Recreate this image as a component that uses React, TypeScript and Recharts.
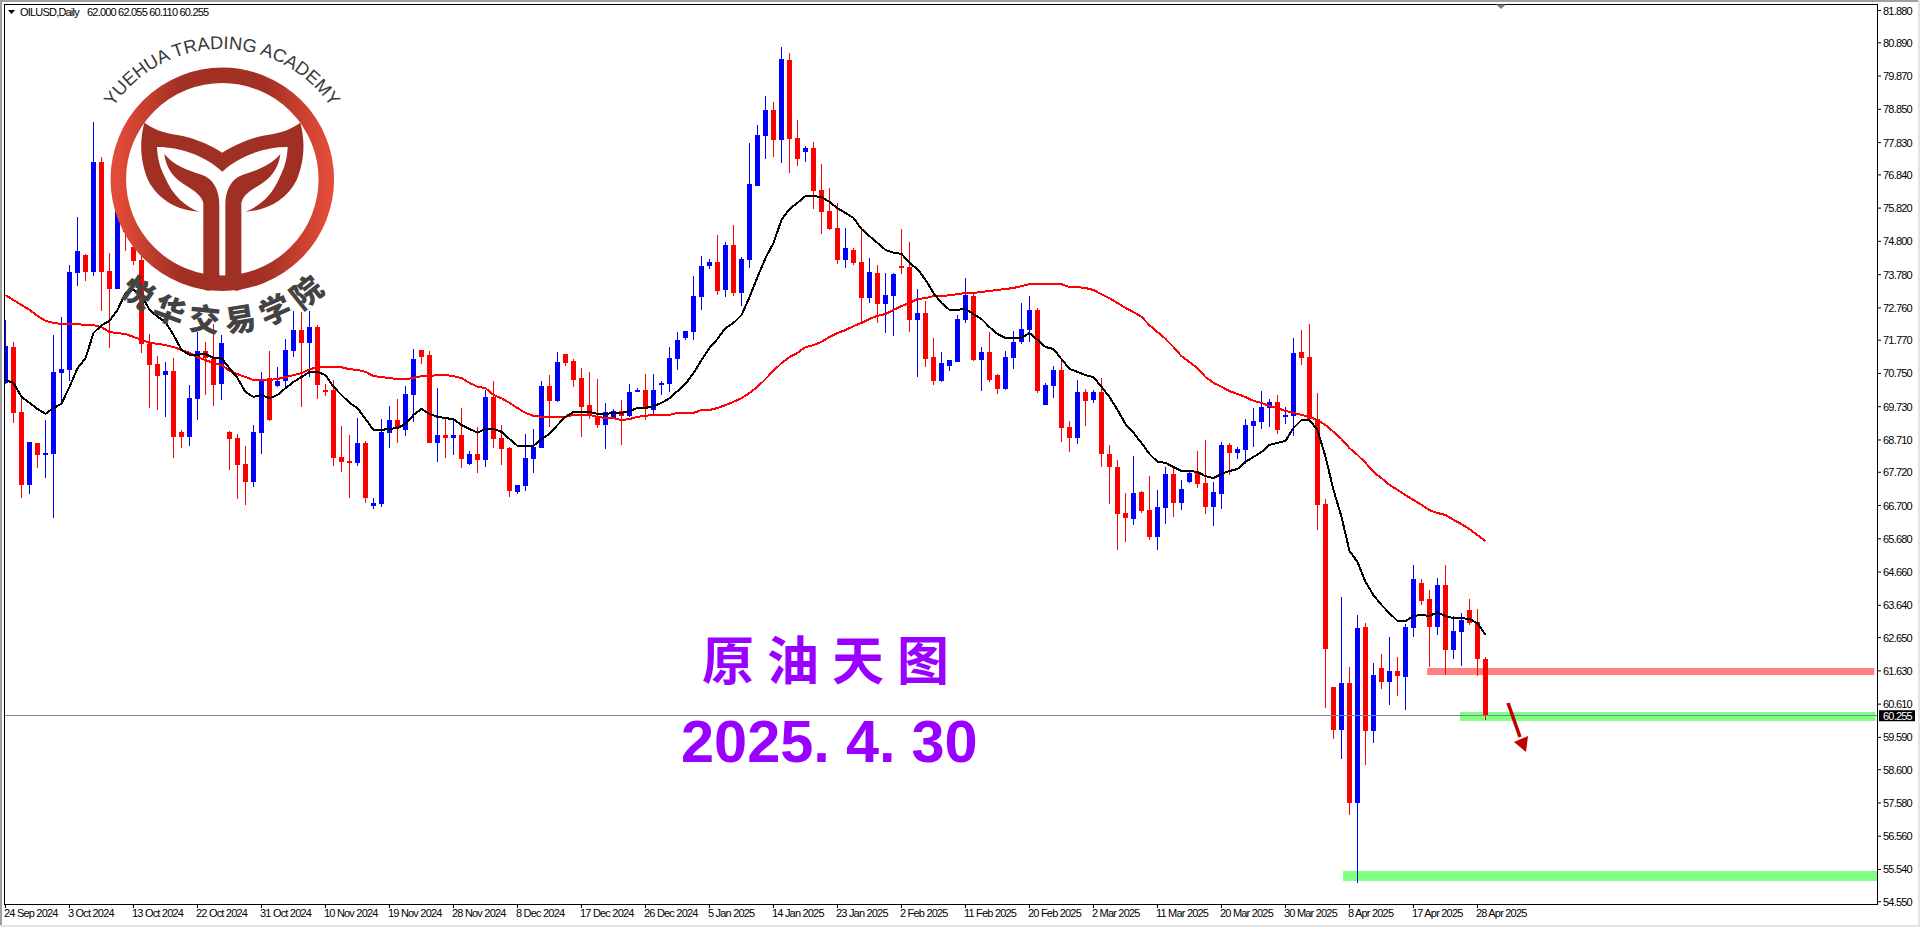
import React from 'react';
import { ComposedChart, Bar, Line, XAxis, YAxis, ReferenceArea, ReferenceLine } from 'recharts';

const opens = [
70.46,71.57,69.57,67.33,68.62,68.25,68.28,70.77,70.86,73.83,
74.39,73.86,77.24,73.89,73.34,75.91,74.63,74.23,71.66,71.04,
70.70,70.83,68.96,68.81,69.97,71.44,71.19,70.43,68.96,68.77,
67.98,67.42,68.93,70.61,70.37,70.52,71.44,72.08,71.69,72.17,
70.24,70.24,68.19,68.07,68.01,68.62,66.69,66.75,68.93,69.32,
69.02,70.09,71.47,71.32,68.62,68.86,68.77,68.86,67.98,68.28,
68.10,70.03,68.77,68.46,67.12,67.30,68.13,68.46,70.37,69.91,
71.35,71.13,70.61,69.78,69.45,69.17,69.38,69.60,69.45,70.18,
70.24,69.63,70.40,70.43,71.19,71.84,72.02,73.09,74.04,74.17,
73.31,74.69,73.22,74.23,76.50,78.04,78.83,77.91,80.36,77.97,
77.54,77.66,76.38,75.73,75.21,74.23,74.54,74.17,73.06,73.83,
72.88,73.12,74.04,74.01,72.39,72.61,71.25,70.52,70.98,71.10,
72.39,73.12,71.16,71.41,70.70,70.27,71.22,71.72,72.08,72.70,
69.78,70.37,70.86,69.11,68.77,70.18,69.94,70.18,68.28,67.88,
66.47,66.28,67.12,66.56,65.73,66.62,67.67,66.78,67.42,67.70,
67.39,66.65,67.06,68.56,68.31,68.40,69.14,69.26,69.69,69.88,
69.42,69.45,71.41,71.25,69.35,66.75,61.13,59.82,61.26,57.58,
62.97,59.79,61.72,61.29,61.63,61.44,62.94,64.33,63.83,62.97,
64.27,62.27,62.82,63.50,63.12,62.00];
const highs = [
72.39,71.72,70.03,68.65,68.62,69.32,71.93,72.49,74.08,75.55,
74.42,78.46,77.39,74.45,76.22,76.68,74.84,74.54,71.96,71.28,
71.10,71.22,69.02,70.40,72.02,71.72,72.27,71.93,68.99,68.90,
68.53,69.17,70.80,71.44,70.95,71.81,72.67,72.64,72.67,72.23,
70.43,70.55,69.14,68.86,69.38,68.68,66.93,69.35,69.75,69.97,
70.37,71.50,71.47,71.44,70.30,69.35,69.32,69.69,68.37,69.11,
70.24,70.52,69.17,68.49,67.33,68.90,69.05,70.52,70.70,71.41,
71.35,71.19,70.92,70.80,70.58,69.85,69.66,69.94,70.43,70.30,
70.74,70.74,70.52,71.56,72.02,72.05,73.74,74.35,74.26,75.00,
74.78,75.31,74.32,77.82,78.37,79.26,79.08,80.76,80.58,78.52,
77.72,77.85,77.17,76.44,75.98,75.21,74.60,75.15,74.29,74.08,
73.83,73.83,75.18,74.78,73.34,72.97,71.84,71.41,71.16,72.54,
73.68,73.18,71.56,72.02,70.73,71.44,72.05,72.91,73.12,72.76,
70.46,70.98,71.16,69.29,70.55,70.27,70.24,70.61,68.56,68.10,
67.08,68.22,67.15,67.60,67.18,67.88,67.85,67.48,67.76,68.37,
68.71,67.42,68.65,68.62,68.49,69.35,69.69,70.21,69.97,70.09,
69.73,71.84,72.08,72.27,70.15,66.90,61.13,63.89,61.75,63.35,
63.09,61.87,62.15,62.67,62.05,63.07,64.87,64.45,64.11,64.48,
64.87,63.31,63.41,63.83,63.53,62.055];
const lows = [
70.43,69.23,66.93,67.06,67.85,67.54,66.31,69.88,70.52,73.44,
73.59,73.74,72.67,71.53,73.34,74.51,74.08,71.38,69.69,69.63,
69.42,68.16,68.46,68.53,69.32,70.09,69.76,69.94,67.79,66.90,
66.72,67.27,68.28,69.29,70.34,70.34,71.25,69.73,70.64,69.97,
70.06,67.92,67.73,66.93,67.92,66.78,66.59,66.65,68.46,68.62,
68.84,69.26,71.04,68.62,68.04,68.16,68.25,67.85,67.95,67.70,
67.88,68.46,67.95,66.96,67.06,67.15,67.70,68.46,69.11,69.88,
70.98,70.34,68.81,69.35,69.08,68.43,69.38,68.56,69.42,70.18,
69.32,69.48,70.09,70.18,70.86,71.78,71.78,72.70,73.95,73.15,
73.09,73.12,72.82,73.98,76.50,77.33,77.39,77.21,76.90,77.11,
77.24,75.79,75.03,75.15,74.11,73.98,74.08,72.33,72.91,72.30,
71.99,71.90,73.80,72.02,70.64,70.95,70.40,70.49,70.83,71.10,
72.30,71.13,70.21,70.49,70.12,70.24,70.89,71.66,71.72,70.15,
69.78,70.00,68.65,68.34,68.59,69.14,69.85,67.88,66.75,65.34,
65.58,66.10,66.47,65.64,65.34,66.13,66.35,66.56,67.39,67.24,
66.44,66.08,66.59,67.64,68.13,67.98,68.49,69.05,69.11,68.90,
69.20,68.84,71.01,69.32,65.95,60.49,59.54,58.93,57.21,55.13,
58.75,59.42,61.07,60.59,60.86,60.43,62.67,63.65,61.75,62.73,
61.51,61.99,61.78,63.04,61.47,60.11];
const closes = [
71.60,69.54,67.33,68.65,68.25,68.31,70.80,70.88,73.86,74.51,
73.86,77.24,73.86,73.34,75.91,75.09,74.20,71.66,71.01,70.67,
70.83,68.81,68.81,70.00,71.44,71.22,70.40,71.69,68.74,67.95,
67.42,68.96,70.55,69.32,70.52,71.47,72.08,71.69,72.17,70.40,
70.21,68.16,68.04,68.01,68.62,66.93,66.78,68.96,69.32,69.08,
70.12,71.19,71.25,68.62,68.86,68.77,68.86,68.13,68.28,68.10,
70.03,68.74,68.43,67.15,67.33,68.16,68.49,70.37,69.91,71.10,
71.07,70.55,69.72,69.45,69.17,69.57,69.60,69.45,70.18,70.24,
69.69,70.24,70.46,71.22,71.78,72.05,73.12,74.04,74.17,73.28,
74.69,73.22,74.26,76.56,78.07,78.83,77.91,80.39,77.94,77.33,
77.66,76.35,75.70,75.18,74.23,74.60,74.14,73.06,73.86,72.88,
73.15,73.80,73.98,72.39,72.61,71.19,70.52,71.07,71.16,72.42,
73.15,71.16,71.41,70.55,70.27,71.25,71.72,72.11,72.70,70.21,
70.40,70.86,69.08,68.77,70.18,69.91,70.18,68.28,67.88,66.44,
66.31,67.08,66.53,65.73,66.65,67.67,66.78,67.21,67.70,67.36,
66.65,67.12,68.56,68.31,68.43,69.17,69.29,69.72,69.88,69.02,
69.48,71.38,71.22,69.35,66.72,62.30,59.82,61.26,57.58,62.94,
59.79,61.50,61.29,61.63,61.47,62.97,64.45,63.77,62.97,64.27,
62.27,62.85,63.19,63.09,61.99,60.255];
const fastMA = [
70.55,70.46,70.03,69.85,69.66,69.51,69.69,69.82,70.34,70.91,
71.22,71.99,72.23,72.36,72.70,73.22,73.31,73.15,72.70,72.49,
72.33,71.93,71.47,71.32,71.32,71.35,71.22,71.22,70.91,70.61,
70.18,70.03,70.09,69.99,70.09,70.30,70.49,70.64,70.80,70.80,
70.70,70.34,70.09,69.85,69.69,69.35,69.02,69.02,69.05,69.08,
69.20,69.48,69.66,69.51,69.42,69.38,69.35,69.17,69.05,68.93,
69.05,69.05,68.96,68.74,68.53,68.53,68.53,68.74,68.90,69.17,
69.42,69.57,69.57,69.57,69.51,69.51,69.54,69.54,69.60,69.69,
69.69,69.75,69.85,69.99,70.21,70.43,70.76,71.16,71.53,71.81,
72.14,72.30,72.54,73.09,73.71,74.29,74.75,75.46,75.79,75.98,
76.19,76.19,76.16,76.01,75.82,75.67,75.52,75.18,74.96,74.75,
74.54,74.45,74.42,74.14,73.95,73.62,73.22,72.91,72.70,72.70,
72.73,72.57,72.42,72.17,71.96,71.84,71.84,71.84,71.99,71.78,
71.56,71.50,71.19,70.89,70.80,70.70,70.64,70.34,70.03,69.63,
69.20,68.93,68.62,68.28,68.04,68.01,67.88,67.76,67.76,67.73,
67.60,67.54,67.67,67.76,67.82,68.04,68.19,68.34,68.56,68.62,
68.68,69.08,69.32,69.32,69.02,68.19,67.18,66.35,65.31,64.97,
64.36,63.95,63.65,63.40,63.16,63.16,63.31,63.35,63.31,63.43,
63.31,63.25,63.25,63.22,63.09,62.73];
const slowMA = [
73.15,73.00,72.85,72.70,72.52,72.36,72.30,72.27,72.27,72.27,
72.23,72.23,72.17,72.02,71.99,71.96,71.87,71.78,71.69,71.66,
71.62,71.56,71.47,71.38,71.25,71.16,71.07,71.01,70.83,70.73,
70.64,70.55,70.55,70.55,70.58,70.64,70.70,70.76,70.88,70.94,
70.94,70.94,70.94,70.88,70.86,70.80,70.67,70.64,70.61,70.58,
70.58,70.61,70.67,70.67,70.70,70.70,70.67,70.61,70.46,70.34,
70.30,70.09,69.99,69.85,69.69,69.54,69.45,69.42,69.42,69.42,
69.42,69.48,69.48,69.48,69.42,69.38,69.38,69.32,69.35,69.42,
69.45,69.48,69.48,69.48,69.54,69.54,69.54,69.63,69.63,69.69,
69.78,69.88,69.99,70.15,70.34,70.58,70.83,71.07,71.25,71.38,
71.56,71.62,71.72,71.87,71.99,72.08,72.20,72.30,72.42,72.52,
72.57,72.70,72.82,72.91,73.03,73.06,73.12,73.12,73.15,73.18,
73.22,73.22,73.25,73.28,73.31,73.34,73.37,73.43,73.49,73.49,
73.49,73.49,73.49,73.40,73.40,73.37,73.31,73.18,73.06,72.91,
72.76,72.63,72.49,72.23,72.02,71.81,71.56,71.28,71.10,70.91,
70.64,70.46,70.34,70.21,70.12,70.03,69.91,69.85,69.75,69.69,
69.60,69.54,69.48,69.42,69.32,69.17,68.96,68.74,68.46,68.25,
68.01,67.73,67.54,67.33,67.18,67.02,66.87,66.72,66.56,66.47,
66.41,66.26,66.13,65.98,65.79,65.61];

const priceTicks = [81.88,80.89,79.87,78.85,77.83,76.84,75.82,74.8,73.78,72.76,71.77,70.75,69.73,68.71,67.72,66.7,65.68,64.66,63.64,62.65,61.63,60.61,60.255,59.59,58.6,57.58,56.56,55.54,54.55];
const lastPrice = 60.255;
const dateLabels = ['24 Sep 2024','3 Oct 2024','13 Oct 2024','22 Oct 2024','31 Oct 2024','10 Nov 2024','19 Nov 2024','28 Nov 2024','8 Dec 2024','17 Dec 2024','26 Dec 2024','5 Jan 2025','14 Jan 2025','23 Jan 2025','2 Feb 2025','11 Feb 2025','20 Feb 2025','2 Mar 2025','11 Mar 2025','20 Mar 2025','30 Mar 2025','8 Apr 2025','17 Apr 2025','28 Apr 2025'];
const dateTicks = dateLabels.map((_, k) => k * 8);
const headerText = '62.000 62.055 60.110 60.255';

const rows = opens.map((o, i) => ({ i, o, h: highs[i], l: lows[i], c: closes[i], range: [lows[i], highs[i]], fast: fastMA[i], slow: slowMA[i] }));

const tickFont = { fontFamily: '"Liberation Sans", Arial, sans-serif', fontSize: 11, letterSpacing: -0.8 };

function Candle(props: any) {
  const { x, y, width, height, payload } = props;
  if (!payload || !(height > 0)) return null;
  const { o, h, l, c } = payload;
  const up = c >= o;
  const col = up ? '#0000ff' : '#ff0000';
  const py = (v: number) => y + ((h - v) / (h - l)) * height;
  const cx = Math.floor(x + width / 2) + 0.5;
  const top = Math.round(py(Math.max(o, c)));
  const bot = Math.round(py(Math.min(o, c)));
  const doji = bot - top < 2;
  return (
    <g shapeRendering="crispEdges">
      <rect x={cx - 0.5} y={y} width={1} height={height} fill={col} />
      <rect x={cx - 2.5} y={top} width={5} height={doji ? 2 : bot - top} fill={col} />
    </g>
  );
}

function PriceTick(props: any) {
  const { x, y, payload } = props;
  const v = payload.value;
  const label = v.toFixed(3);
  if (v === lastPrice) {
    return (
      <g>
        <rect x={1879} y={y - 5.5} width={36} height={11} fill="#000" />
        <text x={1883} y={y + 4} fill="#fff" {...tickFont}>{label}</text>
      </g>
    );
  }
  return (
    <g>
      <line x1={1877.5} x2={1881} y1={y} y2={y} stroke="#000" />
      <text x={1883} y={y + 4} fill="#000" {...tickFont}>{label}</text>
    </g>
  );
}

function DateTick(props: any) {
  const { x, y, payload } = props;
  const k = dateTicks.indexOf(payload.value);
  return (
    <g>
      <line x1={x} x2={x} y1={904.5} y2={908} stroke="#000" />
      <text x={x - 1.5} y={917} fill="#000" {...tickFont}>{dateLabels[k]}</text>
    </g>
  );
}

function Logo() {
  return (
    <g>
      <defs>
        <linearGradient id="ringGrad" x1="0" x2="1" y1="0" y2="0">
          <stop offset="0" stopColor="#e24b39" />
          <stop offset="0.3" stopColor="#a23024" />
          <stop offset="0.7" stopColor="#a23024" />
          <stop offset="1" stopColor="#e24b39" />
        </linearGradient>
        <path id="topArc" d="M 91 180 A 131 131 0 0 1 353 180" />
        <path id="botArc" d="M 70 180 A 152 152 0 0 0 374 180" />
      </defs>
      <circle cx={222.3} cy={179.3} r={104} fill="#fff" stroke="url(#ringGrad)" strokeWidth={15.5} />
      <g transform="scale(0.33333)" fill="#a03024">
        <path d="M433 368 C470 395 510 402 545 407 C595 418 640 440 667 458 C694 440 739 418 789 407 C824 402 864 395 901 368 C915 420 915 480 890 540 C860 600 800 632 737 635 C775 620 815 590 840 530 C858 495 862 465 863 441 C800 440 720 465 667 515 C614 465 534 440 471 441 C472 465 476 495 494 530 C519 590 559 620 597 635 C534 632 474 600 444 540 C419 480 419 420 433 368 Z" />
        <path d="M493 462 C520 495 560 510 605 524 C640 535 658 570 658 615 L658 840 C658 855 640 872 622 872 L560 850 L610 822 L610 610 C606 585 580 570 545 548 C515 528 497 498 493 462 Z" />
        <path d="M841 462 C814 495 774 510 729 524 C694 535 676 570 676 615 L676 840 C676 855 694 872 712 872 L774 850 L724 822 L724 610 C728 585 754 570 789 548 C819 528 837 498 841 462 Z" />
      </g>
      <text fontFamily='"Liberation Sans", Arial, sans-serif' fontSize={18.3} fill="#3a3a3a">
        <textPath href="#topArc" startOffset="50%" textAnchor="middle">YUEHUA TRADING ACADEMY</textPath>
      </text>
      <text fontFamily='"Noto Sans CJK SC", sans-serif' fontWeight={900} fontSize={31} letterSpacing={8} fill="#434343">
        <textPath href="#botArc" startOffset="51%" textAnchor="middle">悦华交易学院</textPath>
      </text>
    </g>
  );
}

export default function App() {
  return (
    <div style={{ position: 'absolute', left: 0, top: 0, width: 1920, height: 927, background: '#fff', overflow: 'hidden' }}>
      <ComposedChart width={1920} height={927} data={rows} margin={{ top: 4.5, right: 0, bottom: 0, left: 4.5 }} barSize={5}>
        <XAxis dataKey="i" type="number" domain={[-0.125, 234]} allowDataOverflow ticks={dateTicks} interval={0} height={22.5} tick={<DateTick />} tickLine={false} axisLine={{ stroke: '#000' }} />
        <YAxis orientation="right" type="number" domain={[54.466, 82.064]} allowDataOverflow ticks={priceTicks} interval={0} width={42.5} tick={<PriceTick />} tickLine={false} axisLine={{ stroke: '#000' }} />
        <ReferenceArea x1={177.7} x2={233.6} y1={61.5} y2={61.72} fill="#ff8080" fillOpacity={1} stroke="none" />
        <ReferenceArea x1={181.8} x2={233.75} y1={60.09} y2={60.37} fill="#80ff80" fillOpacity={1} stroke="none" />
        <ReferenceArea x1={167.2} x2={234} y1={55.19} y2={55.49} fill="#80ff80" fillOpacity={1} stroke="none" />
        <ReferenceLine y={lastPrice} stroke="#778899" strokeWidth={1} shapeRendering="crispEdges" />
        <Bar dataKey="range" shape={<Candle />} isAnimationActive={false} />
        <Line dataKey="slow" type="linear" stroke="#ff0000" strokeWidth={2} dot={false} isAnimationActive={false} shapeRendering="crispEdges" />
        <Line dataKey="fast" type="linear" stroke="#000000" strokeWidth={2} dot={false} isAnimationActive={false} shapeRendering="crispEdges" />
      </ComposedChart>
      <svg width={1920} height={927} style={{ position: 'absolute', left: 0, top: 0, pointerEvents: 'none' }}>
        <rect x={0} y={0} width={1920} height={2} fill="#a0a0a0" />
        <rect x={0} y={0} width={2} height={927} fill="#a0a0a0" />
        <rect x={0} y={925} width={1920} height={2} fill="#e4e4e4" />
        <rect x={1918} y={0} width={2} height={927} fill="#e4e4e4" />
        <rect x={4.5} y={4.5} width={1873} height={900} fill="none" stroke="#000" />
        <polygon points="8,10 15,10 11.5,14" fill="#000" />
        <polygon points="1496,4.5 1506,4.5 1501,9" fill="#808080" />
        <text x={20} y={16} fill="#000" {...tickFont}>OILUSD,Daily</text>
        <text x={87} y={16} fill="#000" {...tickFont}>{headerText}</text>
        <Logo />
        <text x={702} y={680} fontFamily='"Noto Sans CJK SC", sans-serif' fontWeight={700} fontSize={52} letterSpacing={13} fill="#9900ff">原油天图</text>
        <text x={681} y={762} fontFamily='"Liberation Sans", Arial, sans-serif' fontWeight={700} fontSize={59.5} fill="#9900ff">
          <tspan>2025.</tspan><tspan dx={16}>4.</tspan><tspan dx={16}>30</tspan>
        </text>
        <line x1={1508} y1={703} x2={1520} y2={737} stroke="#c00000" strokeWidth={3.5} />
        <polygon points="1514,742 1528,736 1526,752" fill="#c00000" />
      </svg>
    </div>
  );
}
